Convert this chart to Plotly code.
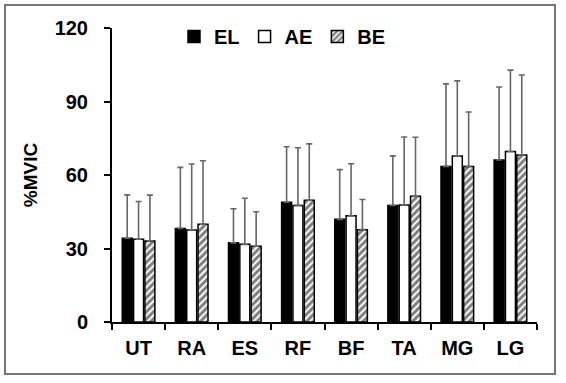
import plotly.graph_objects as go

categories = ["UT", "RA", "ES", "RF", "BF", "TA", "MG", "LG"]
el_mean = [34.2, 38.2, 32.3, 48.9, 41.9, 47.6, 63.5, 66.1]
el_sd = [17.7, 24.9, 13.9, 22.6, 20.3, 20.2, 33.7, 29.8]
ae_mean = [33.8, 37.6, 31.7, 47.6, 43.4, 47.8, 67.8, 69.6]
ae_sd = [15.4, 26.9, 18.8, 23.5, 21.2, 27.7, 30.6, 33.2]
be_mean = [33.1, 39.9, 30.9, 49.7, 37.7, 51.3, 63.5, 68.2]
be_sd = [18.7, 25.9, 14.1, 23.0, 12.3, 24.1, 22.2, 32.6]
y_ticks = [0, 30, 60, 90, 120]

FONT = "Liberation Sans, Arial, sans-serif"
FS = 20
err_style = dict(type="data", symmetric=False, color="#666666",
                 thickness=1.6, width=3)

fig = go.Figure()
fig.add_trace(go.Bar(name="EL", x=categories, y=el_mean,
                     marker=dict(color="black", line=dict(color="black", width=1.5)),
                     error_y=dict(array=el_sd, **err_style)))
fig.add_trace(go.Bar(name="AE", x=categories, y=ae_mean,
                     marker=dict(color="white", line=dict(color="black", width=1.5)),
                     error_y=dict(array=ae_sd, **err_style)))
fig.add_trace(go.Bar(name="BE", x=categories, y=be_mean,
                     marker=dict(color="white", line=dict(color="black", width=1.5),
                                 pattern=dict(shape="/", fgcolor="black", bgcolor="white",
                                              size=5, solidity=0.6)),
                     error_y=dict(array=be_sd, **err_style)))

L, R, T, B = 112, 566 - 537, 28, 383 - 322
pw, ph = 566 - L - R, 383 - T - B

def px_x(p):
    return (p - L) / pw

def px_y(p):
    return (383 - B - p) / ph

fig.update_layout(
    width=566, height=383,
    margin=dict(l=L, r=R, t=T, b=B, pad=0),
    paper_bgcolor="white", plot_bgcolor="white",
    barmode="group", bargap=0.36, bargroupgap=0.12,
    font=dict(family=FONT, color="black"),
    showlegend=True,
    legend=dict(orientation="h", x=px_x(174), y=px_y(17), xanchor="left", yanchor="top",
                font=dict(family=FONT, size=FS, weight="bold", color="black"),
                bgcolor="rgba(0,0,0,0)", itemwidth=30, tracegroupgap=0),
    xaxis=dict(type="category", range=[-0.5, 7.5], tickson="boundaries",
               showline=True, linecolor="black", linewidth=2,
               ticks="outside", ticklen=6, tickwidth=2, tickcolor="black",
               ticklabelstandoff=7,
               tickfont=dict(family=FONT, size=FS, weight="bold", color="black"),
               showgrid=False, zeroline=False),
    yaxis=dict(range=[0, 120], tickvals=y_ticks,
               showline=True, linecolor="black", linewidth=2,
               ticks="outside", ticklen=6, tickwidth=2, tickcolor="black",
               ticklabelstandoff=12,
               tickfont=dict(family=FONT, size=FS, weight="bold", color="black"),
               title=dict(text="%MVIC", standoff=12,
                          font=dict(family=FONT, size=19, weight="bold", color="black")),
               showgrid=False, zeroline=False),
    shapes=[dict(type="rect", xref="paper", yref="paper",
                 x0=px_x(5), x1=px_x(555), y0=px_y(374), y1=px_y(5),
                 line=dict(color="#777777", width=2), fillcolor="rgba(0,0,0,0)",
                 layer="above")],
)

fig.write_html("out.html", config={"displayModeBar": False},
               post_script="document.body.style.margin='0';")
